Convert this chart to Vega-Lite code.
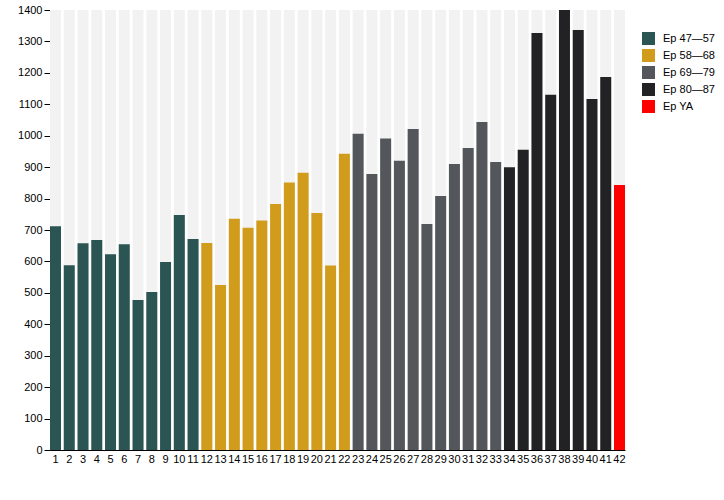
{
  "$schema": "https://vega.github.io/schema/vega-lite/v6.json",
  "autosize": "none",
  "width": 575,
  "height": 440,
  "padding": {"left": 50, "top": 10, "right": 99, "bottom": 50},
  "background": "white",
  "config": {
    "view": {"stroke": null},
    "font": "Liberation Sans",
    "axis": {
      "labelFont": "Liberation Sans",
      "labelFontSize": 11,
      "labelColor": "#000",
      "domainColor": "#000",
      "tickColor": "#000",
      "grid": false,
      "title": null,
      "zindex": 1
    },
    "axisY": {
      "tickCount": 14,
      "format": "d",
      "labelOverlap": false,
      "tickSize": 6,
      "labelPadding": 2
    },
    "legend": {
      "labelFont": "Liberation Sans",
      "labelFontSize": 11,
      "labelColor": "#000"
    }
  },
  "data": {
    "values": [
      {"ep": 1, "count": 712, "group": "Ep 47—57"},
      {"ep": 2, "count": 588, "group": "Ep 47—57"},
      {"ep": 3, "count": 658, "group": "Ep 47—57"},
      {"ep": 4, "count": 668, "group": "Ep 47—57"},
      {"ep": 5, "count": 623, "group": "Ep 47—57"},
      {"ep": 6, "count": 655, "group": "Ep 47—57"},
      {"ep": 7, "count": 477, "group": "Ep 47—57"},
      {"ep": 8, "count": 503, "group": "Ep 47—57"},
      {"ep": 9, "count": 598, "group": "Ep 47—57"},
      {"ep": 10, "count": 748, "group": "Ep 47—57"},
      {"ep": 11, "count": 671, "group": "Ep 47—57"},
      {"ep": 12, "count": 659, "group": "Ep 58—68"},
      {"ep": 13, "count": 525, "group": "Ep 58—68"},
      {"ep": 14, "count": 736, "group": "Ep 58—68"},
      {"ep": 15, "count": 707, "group": "Ep 58—68"},
      {"ep": 16, "count": 730, "group": "Ep 58—68"},
      {"ep": 17, "count": 783, "group": "Ep 58—68"},
      {"ep": 18, "count": 851, "group": "Ep 58—68"},
      {"ep": 19, "count": 882, "group": "Ep 58—68"},
      {"ep": 20, "count": 754, "group": "Ep 58—68"},
      {"ep": 21, "count": 587, "group": "Ep 58—68"},
      {"ep": 22, "count": 943, "group": "Ep 58—68"},
      {"ep": 23, "count": 1006, "group": "Ep 69—79"},
      {"ep": 24, "count": 878, "group": "Ep 69—79"},
      {"ep": 25, "count": 991, "group": "Ep 69—79"},
      {"ep": 26, "count": 920, "group": "Ep 69—79"},
      {"ep": 27, "count": 1021, "group": "Ep 69—79"},
      {"ep": 28, "count": 719, "group": "Ep 69—79"},
      {"ep": 29, "count": 808, "group": "Ep 69—79"},
      {"ep": 30, "count": 910, "group": "Ep 69—79"},
      {"ep": 31, "count": 961, "group": "Ep 69—79"},
      {"ep": 32, "count": 1044, "group": "Ep 69—79"},
      {"ep": 33, "count": 916, "group": "Ep 69—79"},
      {"ep": 34, "count": 900, "group": "Ep 80—87"},
      {"ep": 35, "count": 955, "group": "Ep 80—87"},
      {"ep": 36, "count": 1327, "group": "Ep 80—87"},
      {"ep": 37, "count": 1130, "group": "Ep 80—87"},
      {"ep": 38, "count": 1400, "group": "Ep 80—87"},
      {"ep": 39, "count": 1336, "group": "Ep 80—87"},
      {"ep": 40, "count": 1117, "group": "Ep 80—87"},
      {"ep": 41, "count": 1187, "group": "Ep 80—87"},
      {"ep": 42, "count": 843, "group": "Ep YA"}
    ]
  },
  "encoding": {
    "x": {
      "field": "ep",
      "type": "ordinal",
      "scale": {"paddingInner": 0.2, "paddingOuter": 0},
      "axis": {
        "labelAngle": 0,
        "ticks": false,
        "labelPadding": 3,
        "labelOverlap": false,
        "labelBound": false
      }
    }
  },
  "layer": [
    {
      "mark": {"type": "bar", "color": "#f2f2f2"},
      "encoding": {
        "y": {
          "datum": 1400,
          "type": "quantitative",
          "scale": {"domain": [0, 1400]}
        }
      }
    },
    {
      "mark": {"type": "bar"},
      "encoding": {
        "y": {"field": "count", "type": "quantitative"},
        "color": {
          "field": "group",
          "type": "nominal",
          "scale": {
            "domain": ["Ep 47—57", "Ep 58—68", "Ep 69—79", "Ep 80—87", "Ep YA"],
            "range": ["#2a5553", "#d19b1c", "#53565a", "#222224", "#ff0000"]
          },
          "legend": {
            "title": null,
            "orient": "none",
            "legendX": 592,
            "legendY": 22,
            "symbolType": "square",
            "symbolSize": 169,
            "symbolStrokeWidth": 0,
            "symbolOpacity": 1,
            "rowPadding": 4,
            "labelOffset": 8
          }
        }
      }
    }
  ]
}
